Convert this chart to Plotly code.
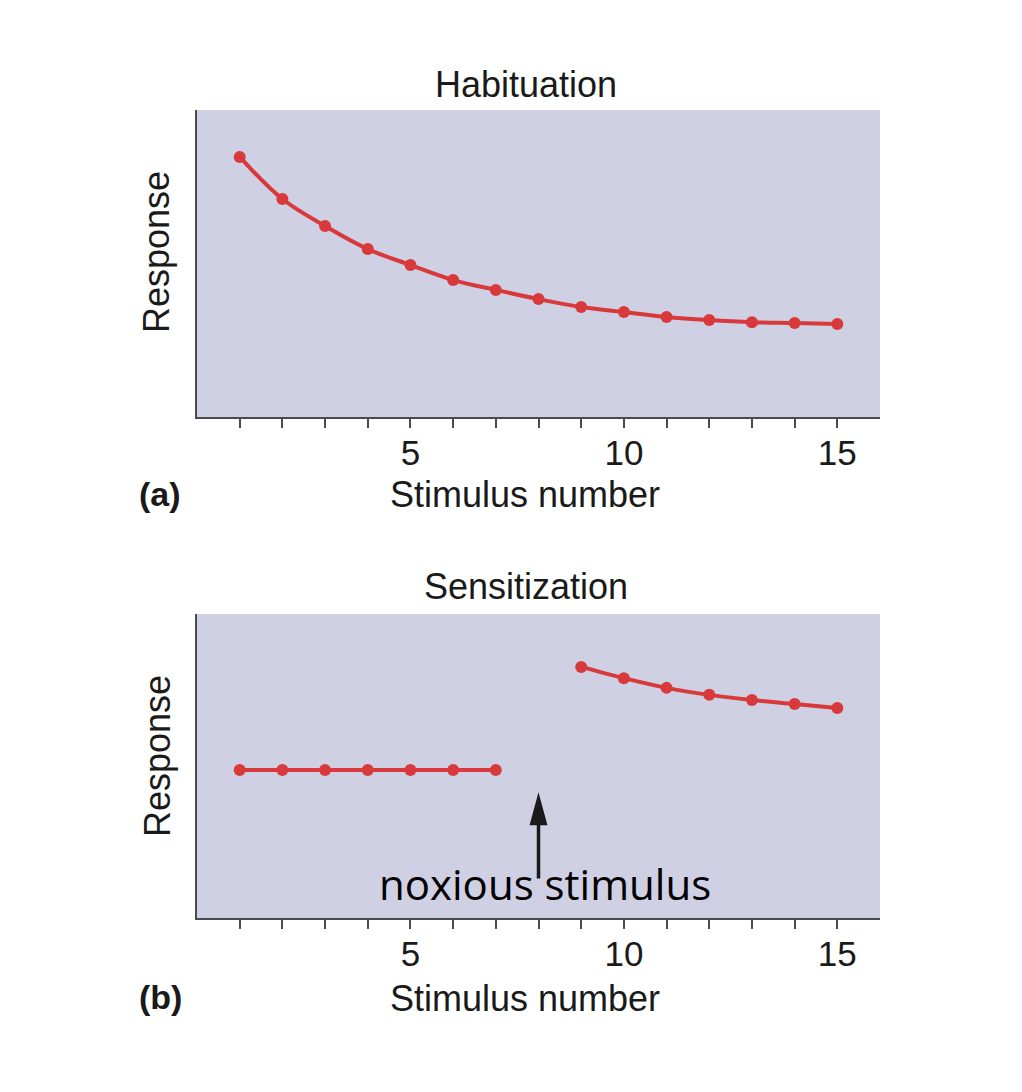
import plotly.graph_objects as go

# ---- data ----
stim_a = list(range(1, 16))
resp_a = [0.847, 0.710, 0.622, 0.547, 0.495, 0.446, 0.414, 0.384, 0.358, 0.342,
          0.326, 0.316, 0.309, 0.306, 0.303]
stim_b1 = [1, 2, 3, 4, 5, 6, 7]
resp_b1 = [0.487, 0.487, 0.487, 0.487, 0.487, 0.487, 0.487]
stim_b2 = [9, 10, 11, 12, 13, 14, 15]
resp_b2 = [0.826, 0.789, 0.757, 0.734, 0.717, 0.704, 0.691]
tick_vals = list(range(1, 16))
tick_text = [str(v) if v % 5 == 0 else "" for v in tick_vals]
noxious_x = 8

RED = "#D8393A"
BG = "#CFD0E4"
AX = "#4a4a4a"
FONT = "Liberation Sans, Arial, sans-serif"

fig = go.Figure()
line_kw = dict(mode="lines+markers", line=dict(color=RED, width=4, shape="spline"),
               marker=dict(color=RED, size=12), showlegend=False, hoverinfo="skip")
fig.add_trace(go.Scatter(x=stim_a, y=resp_a, xaxis="x", yaxis="y", **line_kw))
fig.add_trace(go.Scatter(x=stim_b1, y=resp_b1, xaxis="x2", yaxis="y2", **line_kw))
fig.add_trace(go.Scatter(x=stim_b2, y=resp_b2, xaxis="x2", yaxis="y2", **line_kw))

OFF = 8  # page body margin
W, H = 1022 - 2 * OFF, 1092 - 2 * OFF


def px(x):
    return (x - OFF) / W


def py(y):
    return 1 - (y - OFF) / H


xd = [px(197), px(880)]
yd_a = [py(417), py(110)]
yd_b = [py(918), py(614)]

xax = dict(range=[0, 16], showgrid=False, zeroline=False, showline=True, linecolor=AX,
           linewidth=2, ticks="outside", ticklen=9, tickwidth=1.5, tickcolor=AX,
           tickvals=tick_vals, ticktext=tick_text, ticklabelstandoff=-5,
           tickfont=dict(family=FONT, size=35, color="#1a1a1a"), domain=xd, fixedrange=True)
yax = dict(range=[0, 1], showgrid=False, zeroline=False, showline=True, linecolor=AX,
           linewidth=2, showticklabels=False, ticks="", fixedrange=True)

# arrow geometry (bottom panel, data units)
head_tip, head_base, shaft_end, head_half = 0.414, 0.305, 0.13, 0.21

fig.update_layout(
    width=W, height=H,
    margin=dict(l=0, r=0, t=0, b=0),
    paper_bgcolor="white",
    plot_bgcolor=BG,
    xaxis=dict(xax, anchor="y"),
    yaxis=dict(yax, domain=yd_a, anchor="x"),
    xaxis2=dict(xax, anchor="y2"),
    yaxis2=dict(yax, domain=yd_b, anchor="x2"),
    shapes=[
        dict(type="line", xref="x2", yref="y2", x0=noxious_x, x1=noxious_x,
             y0=shaft_end, y1=head_base + 0.01, line=dict(color="#1a1a1a", width=3.5)),
        dict(type="path", xref="x2", yref="y2",
             path=f"M{noxious_x - head_half},{head_base} L{noxious_x},{head_tip} "
                  f"L{noxious_x + head_half},{head_base} Z",
             fillcolor="#1a1a1a", line=dict(width=0)),
    ],
)


def txt(text, x, y, size=36, bold=False, angle=0, color="#1a1a1a", family=FONT):
    fig.add_annotation(text=f"<b>{text}</b>" if bold else text, x=px(x), y=py(y),
                       xref="paper", yref="paper", showarrow=False, textangle=angle,
                       font=dict(family=family, size=size, color=color),
                       xanchor="center", yanchor="middle")


txt("Habituation", 526, 85)
txt("Sensitization", 526, 586)
txt("Stimulus number", 525, 495)
txt("Stimulus number", 525, 998)
txt("Response", 157, 252, angle=-90)
txt("Response", 157, 756, angle=-90)
txt("(a)", 160, 494, size=34, bold=True)
txt("(b)", 160, 997, size=34, bold=True)

fig.add_annotation(x=8.15, y=0.115, xref="x2", yref="y2", text="noxious stimulus",
                   showarrow=False, font=dict(family="Open Sans", size=42, color="black"),
                   xanchor="center", yanchor="middle")

fig.write_html("out.html")
